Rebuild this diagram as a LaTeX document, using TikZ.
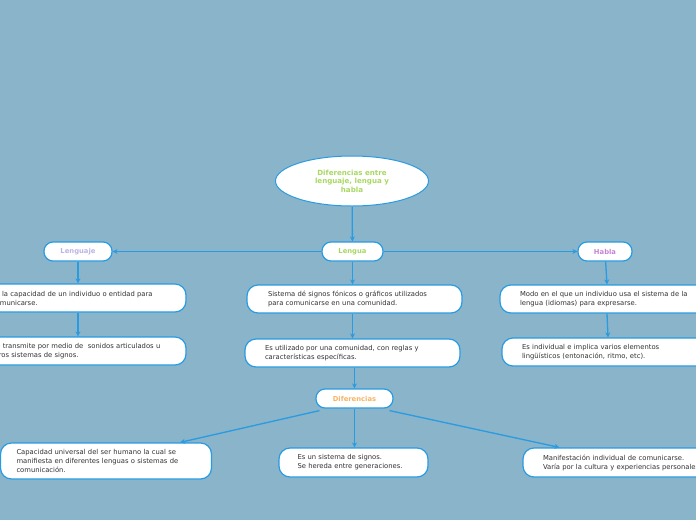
\documentclass[tikz,border=0pt]{standalone}
\usepackage{fontspec}
\setmainfont{DejaVu Sans}
\usetikzlibrary{arrows.meta,shapes.geometric}
\definecolor{bgc}{RGB}{138,180,202}
\definecolor{linec}{RGB}{40,155,225}
\definecolor{titlegreen}{RGB}{168,216,100}
\definecolor{lav}{RGB}{190,180,230}
\definecolor{pinkp}{RGB}{200,130,215}
\definecolor{orangec}{RGB}{248,180,100}
\definecolor{bodytext}{RGB}{50,50,50}
\tikzset{
  conn/.style={draw=linec, line width=1.3pt, -{Stealth[length=5pt,width=5pt]}},
  topic/.style={draw=linec, fill=white, line width=1.2pt, rounded corners=9pt,
    minimum height=19pt, inner sep=0pt, font=\fontsize{6.8pt}{8pt}\selectfont\bfseries},
  textbox/.style={draw=linec, fill=white, line width=1.2pt, rounded corners=11pt,
    minimum height=28pt, inner ysep=2pt, align=left, text=bodytext,
    font=\fontsize{6.8pt}{9pt}\selectfont},
}
\begin{document}
\begin{tikzpicture}[x=1pt,y=-1pt]
\useasboundingbox (0,0) rectangle (696,520);
\fill[bgc] (0,0) rectangle (696,520);
\clip (0,0) rectangle (696,520);

\node[ellipse, draw=linec, fill=white, line width=1pt, minimum width=153pt, minimum height=50pt,
  inner sep=0pt, align=center, text=titlegreen, font=\fontsize{7.1pt}{8.5pt}\selectfont\bfseries]
  (title) at (352,181) {Diferencias entre\\lenguaje, lengua y\\habla};

\node[topic, minimum width=68pt, text=lav] (lenguaje) at (78,251.5) {Lenguaje};
\node[topic, minimum width=61pt, text=titlegreen] (lengua) at (352.5,251.5) {Lengua};
\node[topic, minimum width=54pt, text=pinkp] (habla) at (605,251.5) {Habla};

\node[textbox, inner xsep=21pt, text width=173pt] (L1) at (78.5,298)
  {Es la capacidad de un individuo o entidad para\\comunicarse.};
\node[textbox, inner xsep=21pt, text width=173pt] (L2) at (78.5,351)
  {Se transmite por medio de\ \ sonidos articulados u\\otros sistemas de signos.};

\node[textbox, inner xsep=21pt, text width=173pt] (C1) at (354.5,299)
  {Sistema dé signos fónicos o gráficos utilizados\\para comunicarse en una comunidad.};
\node[textbox, inner xsep=20pt, text width=175pt] (C2) at (352.5,353)
  {Es utilizado por una comunidad, con reglas y\\características específicas.};

\node[textbox, inner xsep=20pt, text width=190pt] (R1) at (615,299)
  {Modo en el que un individuo usa el sistema de la\\lengua (idiomas) para expresarse.};
\node[textbox, inner xsep=20pt, text width=190pt] (R2) at (617,352)
  {Es individual e implica varios elementos\\lingüísticos (entonación, ritmo, etc).};

\node[topic, minimum width=77pt, text=orangec] (dif) at (354.5,398.5) {Diferencias};

\node[textbox, inner xsep=16pt, text width=179pt, minimum height=36pt] (B1) at (106,461)
  {Capacidad universal del ser humano la cual se\\manifiesta en diferentes lenguas o sistemas de\\comunicación.};
\node[textbox, inner xsep=18.5pt, text width=112pt, minimum height=29pt] (B2) at (353.5,462.5)
  {Es un sistema de signos.\\Se hereda entre generaciones.};
\node[textbox, inner xsep=20pt, text width=190pt, minimum height=29pt] (B3) at (638,462.5)
  {Manifestación individual de comunicarse.\\Varía por la cultura y experiencias personales.};

\draw[conn] (title) -- (lengua);
\draw[conn] (lengua) -- (lenguaje);
\draw[conn] (lengua) -- (habla);
\draw[conn] (lenguaje) -- (lenguaje |- L1.north);
\draw[conn] (lenguaje |- L1.south) -- (lenguaje |- L2.north);
\draw[conn] (lengua) -- (lengua |- C1.north);
\draw[conn] (lengua |- C1.south) -- (lengua |- C2.north);
\draw[conn] (dif |- C2.south) -- (dif);
\draw[conn] (habla) -- ([xshift=2pt]habla |- R1.north);
\draw[conn] ([xshift=2pt]habla |- R1.south) -- ([xshift=3pt]habla |- R2.north);
\draw[conn] ([xshift=4pt,yshift=-2pt]dif.south west) -- ([xshift=-32pt]B1.north east);
\draw[conn] (dif) -- (dif |- B2.north);
\draw[conn] ([xshift=-4pt,yshift=-2pt]dif.south east) -- ([xshift=37pt]B3.north west);
\end{tikzpicture}
\end{document}
